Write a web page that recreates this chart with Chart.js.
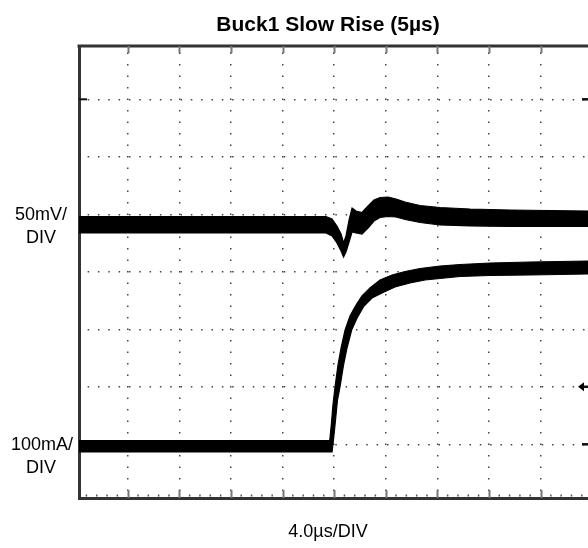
<!DOCTYPE html>
<html lang="en">
<head>
<meta charset="utf-8">
<title>Buck1 Slow Rise (5µs)</title>
<script src="https://cdn.jsdelivr.net/npm/chart.js@4.4.0/dist/chart.umd.min.js"></script>
<style>
  html, body { margin: 0; padding: 0; background: #fff; }
</style>
</head>
<body>
<canvas id="chart" width="588" height="548"></canvas>
<script>
// time in µs (4 µs/div), y in screen divisions (8 div tall)
const xGrid = [4, 8, 12, 16, 20, 24, 28, 32, 36];
const yGrid = [1, 2, 3, 4, 5, 6, 7];

// output voltage trace (50mV/div): top and bottom edge of the noisy band
const voltTime = [0.23, 19.37, 19.84, 20.22, 20.54, 20.73, 20.92, 21.16, 21.39, 21.70, 22.16, 22.63,
                  23.09, 23.56, 24.18, 24.80, 25.50, 26.66, 28.21, 30.54, 33.64, 36.74, 39.68];
const voltHigh = [4.962, 4.962, 4.918, 4.797, 4.657, 4.501, 4.623, 4.901, 5.110, 5.057, 5.031, 5.144,
                  5.249, 5.292, 5.301, 5.266, 5.214, 5.153, 5.118, 5.092, 5.075, 5.066, 5.057];
const voltLow  = [4.675, 4.675, 4.623, 4.501, 4.362, 4.257, 4.344, 4.518, 4.692, 4.675, 4.657, 4.762,
                  4.883, 4.944, 4.962, 4.953, 4.910, 4.857, 4.814, 4.797, 4.788, 4.788, 4.788];

// inductor current trace (100mA/div)
const currHighTime = [0.23, 19.66, 19.78, 19.91, 20.07, 20.30, 20.54, 20.85, 21.23, 21.70, 22.16, 22.78,
                      23.56, 24.49, 25.50, 26.66, 28.21, 29.76, 32.09, 35.19, 39.68];
const currHigh     = [1.066, 1.066, 1.336, 1.683, 1.997, 2.379, 2.675, 2.988, 3.231, 3.423, 3.579, 3.718,
                      3.857, 3.944, 4.005, 4.057, 4.101, 4.127, 4.153, 4.170, 4.188];
const currLowTime  = [0.23, 19.84, 19.95, 20.11, 20.26, 20.46, 20.73, 21.00, 21.36, 21.78, 22.32, 22.94,
                      23.71, 24.72, 25.88, 27.05, 28.60, 29.76, 32.09, 35.19, 39.68];
const currLow      = [0.866, 0.866, 1.075, 1.423, 1.770, 2.002, 2.379, 2.675, 2.988, 3.197, 3.405, 3.544,
                      3.631, 3.736, 3.805, 3.857, 3.892, 3.918, 3.936, 3.944, 3.962];

const refLevels = [7, 1];   // channel markers on the right edge
const trigLevel = 2;        // arrow marker

function pts(xs, ys) { return xs.map((x, i) => ({x: x, y: ys[i]})); }

function band(data, fill) {
  return {
    data: data, fill: fill, borderColor: '#000', backgroundColor: '#000',
    borderWidth: 1.2, pointRadius: 0, tension: 0
  };
}

const FONT = '"Liberation Sans", Arial, sans-serif';

const scopeDecor = {
  id: 'scopeDecor',
  afterDraw(chart) {
    const ctx = chart.ctx, a = chart.chartArea;
    const xs = chart.scales.x, ys = chart.scales.y;
    ctx.save();
    // top frame
    ctx.strokeStyle = '#333';
    ctx.lineWidth = 3;
    ctx.beginPath(); ctx.moveTo(a.left - 1.5, a.top); ctx.lineTo(a.right, a.top); ctx.stroke();
    // major ticks on top and bottom frame
    ctx.strokeStyle = '#777';
    ctx.lineWidth = 2;
    xGrid.forEach(v => {
      const px = Math.round(xs.getPixelForValue(v)) + 0.5;
      ctx.beginPath(); ctx.moveTo(px, a.top); ctx.lineTo(px, a.top + 7); ctx.stroke();
      ctx.beginPath(); ctx.moveTo(px, a.bottom); ctx.lineTo(px, a.bottom - 8); ctx.stroke();
    });
    // minor dots on bottom frame
    ctx.fillStyle = '#555';
    for (let t = 0.8; t < 39.7; t += 0.8) {
      if (Math.abs(t / 4 - Math.round(t / 4)) < 0.01) continue;
      const px = xs.getPixelForValue(t);
      ctx.fillRect(px - 0.75, a.bottom - 3.5, 1.5, 2);
    }
    // left marker
    ctx.strokeStyle = '#111';
    ctx.lineWidth = 2;
    let py = ys.getPixelForValue(7);
    ctx.beginPath(); ctx.moveTo(a.left, py); ctx.lineTo(a.left + 8, py); ctx.stroke();
    // right markers
    ctx.lineWidth = 2.5;
    refLevels.forEach(v => {
      const y = ys.getPixelForValue(v);
      ctx.beginPath(); ctx.moveTo(a.right - 6, y); ctx.lineTo(a.right, y); ctx.stroke();
    });
    // arrow
    py = ys.getPixelForValue(trigLevel);
    ctx.fillStyle = '#000';
    ctx.beginPath();
    ctx.moveTo(a.right - 10, py);
    ctx.lineTo(a.right - 4, py - 4.5);
    ctx.lineTo(a.right - 4, py + 4.5);
    ctx.closePath(); ctx.fill();
    ctx.beginPath(); ctx.moveTo(a.right - 5, py); ctx.lineTo(a.right, py); ctx.stroke();

    // texts
    ctx.fillStyle = '#000';
    ctx.textAlign = 'center';
    ctx.textBaseline = 'alphabetic';
    ctx.font = 'bold 21px ' + FONT;
    ctx.fillText('Buck1 Slow Rise (5µs)', 328, 31);
    ctx.font = '18px ' + FONT;
    ctx.fillText('50mV/', 41, 220);
    ctx.fillText('DIV', 41, 243);
    ctx.fillText('100mA/', 42, 450);
    ctx.fillText('DIV', 41, 473);
    ctx.fillText('4.0µs/DIV', 328, 537);
    ctx.restore();
  }
};

new Chart(document.getElementById('chart'), {
  type: 'line',
  data: {
    datasets: [
      band(pts(voltTime, voltHigh), false),
      band(pts(voltTime, voltLow), '-1'),
      band(pts(currHighTime, currHigh), false),
      band(pts(currLowTime, currLow), '-1')
    ]
  },
  options: {
    responsive: false,
    devicePixelRatio: 1,
    animation: false,
    layout: { padding: { left: 79, top: 46, right: 0, bottom: 50 } },
    plugins: { legend: { display: false }, tooltip: { enabled: false }, title: { display: false } },
    scales: {
      x: {
        type: 'linear', min: 0.225, max: 39.68,
        afterBuildTicks: s => { s.ticks = xGrid.map(v => ({value: v})); },
        ticks: { display: false },
        grid: { color: '#444', lineWidth: 1.5, drawTicks: false },
        border: { display: true, color: '#333', width: 3, dash: [1.5, 10], dashOffset: 4.95 }
      },
      y: {
        type: 'linear', min: 0.066, max: 7.927,
        afterBuildTicks: s => { s.ticks = yGrid.map(v => ({value: v})); },
        ticks: { display: false },
        grid: { color: '#444', lineWidth: 1.5, drawTicks: false },
        border: { display: true, color: '#333', width: 3, dash: [1.5, 8.82], dashOffset: 3.67 }
      }
    }
  },
  plugins: [scopeDecor]
});
</script>
</body>
</html>
